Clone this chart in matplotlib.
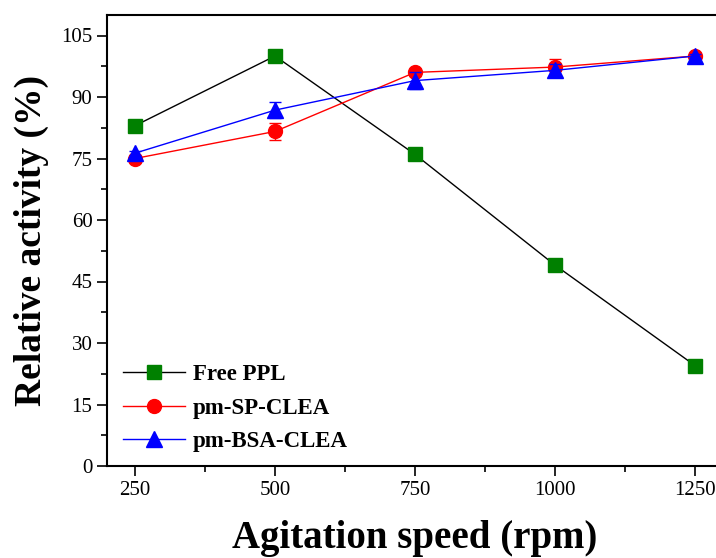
import numpy as np
import matplotlib.pyplot as plt
from matplotlib.ticker import MultipleLocator

# data
speed = [250, 500, 750, 1000, 1250]
free_ppl = [83, 100, 76, 49, 24.5]
sp_clea = [75, 81.6, 96, 97.3, 100]
sp_err = [0.8, 2.0, 0.8, 2.0, 0.6]
bsa_clea = [76.3, 86.8, 94, 96.5, 100]
bsa_err = [0.6, 2.0, 2.0, 1.5, 0.6]

plt.rcParams['font.family'] = ['Liberation Serif', 'DejaVu Serif']

fig = plt.figure(figsize=(7.16, 5.58), dpi=100)
ax = fig.add_axes([107 / 716, 92 / 558, 616 / 716, 451 / 558])

l1, = ax.plot(speed, free_ppl, color='black', lw=1.0, marker='s', ms=9.5,
              mfc='#008000', mec='#008000', label='Free PPL', zorder=3)
e2 = ax.errorbar(speed, sp_clea, yerr=sp_err, color='red', lw=1.0, marker='o', ms=10,
                 mfc='red', mec='red', capsize=4, elinewidth=1, label='pm-SP-CLEA', zorder=4)
e3 = ax.errorbar(speed, bsa_clea, yerr=bsa_err, color='blue', lw=1.0, marker='^', ms=11,
                 mfc='blue', mec='blue', capsize=4, elinewidth=1, label='pm-BSA-CLEA', zorder=5)

ax.set_xlim(200, 1300)
ax.set_ylim(0, 110)
ax.set_xticks(speed)
ax.set_yticks(np.arange(0, 106, 15))
ax.xaxis.set_minor_locator(MultipleLocator(125))
ax.yaxis.set_minor_locator(MultipleLocator(7.5))
ax.tick_params(which='major', direction='out', length=7, width=1.2, labelsize=15)
ax.tick_params(which='minor', direction='out', length=4, width=1.2)
for s in ax.spines.values():
    s.set_linewidth(1.5)
ax.spines['right'].set_visible(False)

ax.set_xlabel('Agitation speed (rpm)', fontsize=28, fontweight='bold', labelpad=15)
ax.set_ylabel('Relative activity (%)', fontsize=27, fontweight='bold', labelpad=9)

ax.legend([l1, e2[0], e3[0]], ['Free PPL', 'pm-SP-CLEA', 'pm-BSA-CLEA'],
          loc='lower left', bbox_to_anchor=(0.0, -0.005),
          frameon=False, prop={'weight': 'bold', 'size': 16.5},
          handlelength=2.7, handletextpad=0.35, labelspacing=0.55,
          borderaxespad=0.3)

fig.savefig('out.png', dpi=100)
